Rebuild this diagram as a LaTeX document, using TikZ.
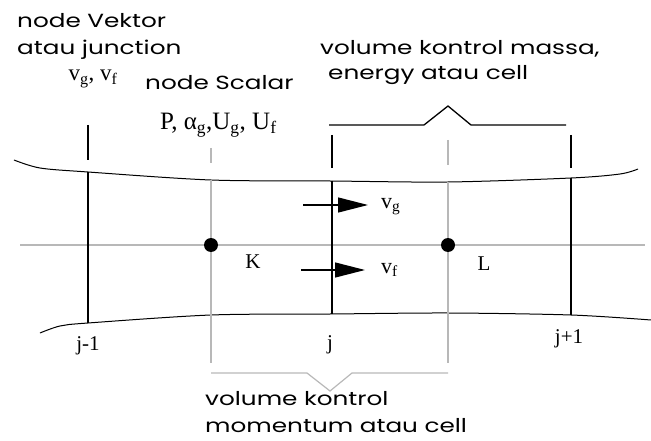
\documentclass[tikz,border=0pt]{standalone}
\usepackage{fontspec}
\setmainfont{Liberation Serif}
\newfontfamily\gothic[FakeStretch=1.3]{Poppins}
\usetikzlibrary{arrows.meta}

\begin{document}
\begin{tikzpicture}[x=1pt,y=-1pt,
  grid/.style={line width=1.3pt},
  faint/.style={line width=1.2pt,black!28},
  wall/.style={line width=1pt},
  lbl/.style={font=\gothic\fontsize{19}{19}\selectfont,anchor=base west,inner sep=0pt},
  sym/.style={font=\fontsize{21}{21}\selectfont,anchor=base,inner sep=0pt},
  dot/.style={circle,fill,inner sep=0pt,minimum size=14pt},
  flow/.style={line width=1.2pt,-{Triangle[length=30pt,width=15pt]}}]
\useasboundingbox (0,0) rectangle (651,441);
% centre line of the pipe
\draw[faint] (20,245) -- (645,245);
% pipe walls
\draw[wall] plot[smooth] coordinates {(14,160) (40,168) (88,172) (211,180) (330,181) (448,182) (571,178) (620,174) (638,169)};
\draw[wall] plot[smooth] coordinates {(40,333) (60,326) (88,323) (211,315) (330,314) (448,313) (571,315) (651,320)};
% junctions j-1, j, j+1 (black) and cell centres K, L (grey)
\foreach \x/\a/\b/\c/\d in {88/125/160/172/323, 332/135/168/181/314, 571/135/168/178/315}
  {\draw[grid] (\x,\a) -- (\x,\b); \draw[grid] (\x,\c) -- (\x,\d);}
\foreach \x/\a/\b/\c/\d in {211/148/163/180/363, 448/140/165/182/363}
  {\draw[faint] (\x,\a) -- (\x,\b); \draw[faint] (\x,\c) -- (\x,\d);}
\node[dot] (dotK) at (211,245) {};
\node[dot] (dotL) at (448,245) {};
% velocities at junction j
\coordinate (vgtail) at (303,205); \coordinate (vgtip) at (368,205);
\coordinate (vftail) at (301,270); \coordinate (vftip) at (365,270);
\draw[flow] (vgtail) -- (vgtip);
\draw[flow] (vftail) -- (vftip);
% braces
\draw[grid] (329,125) -- (424,125) -- (448,106) -- (471,125) -- (566,125);
\draw[faint] (211,373) -- (307,373) -- (330,391) -- (352,373) -- (448,373);
% labels
\node[lbl] (vek1) at (17,28) {node Vektor};
\node[lbl] (vek2) at (17,55) {atau junction};
\node[lbl] (sca) at (145,90) {node Scalar};
\node[lbl] (mas1) at (320,55) {volume kontrol massa,};
\node[lbl] (mas2) at (328,80) {energy atau cell};
\node[lbl] (mom1) at (205,405) {volume kontrol};
\node[lbl] (mom2) at (205,432) {momentum atau cell};
\node[sym,font=\fontsize{23}{23}\selectfont,text height=1.2ex] (vjun) at (93,81) {v\textsubscript{g}, v\textsubscript{f}};
\node[sym,font=\fontsize{25}{25}\selectfont,anchor=base west] (vsca) at (160,130) {P, α\textsubscript{g},U\textsubscript{g}, U\textsubscript{f}};
\node[sym,anchor=base west,font=\fontsize{22}{22}\selectfont] (vg) at (381,208) {v\textsubscript{g}};
\node[sym,anchor=base west,font=\fontsize{22}{22}\selectfont] (vf) at (381,273) {v\textsubscript{f}};
\node[sym] (labK) at (253,268) {K};
\node[sym] (labL) at (484,270) {L};
\node[sym] (jm) at (88,350) {j-1};
\node[sym] (j0) at (330,349) {j};
\node[sym] (jp) at (569,343) {j+1};
\end{tikzpicture}
\end{document}
